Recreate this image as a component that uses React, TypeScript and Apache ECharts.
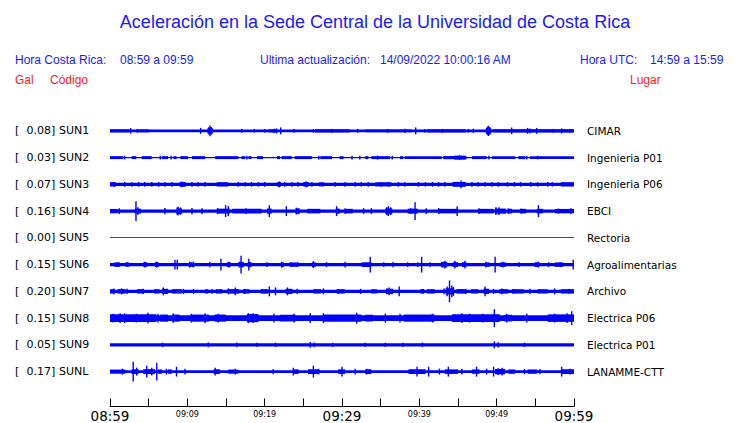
import React, { useEffect, useRef } from 'react';
import * as echarts from 'echarts';

// ---- texts ----
const titleText = 'Aceleración en la Sede Central de la Universidad de Costa Rica';
const headerLocalLabel = 'Hora Costa Rica:';
const headerLocalRange = '08:59 a 09:59';
const headerUpdateLabel = 'Ultima actualización:';
const headerUpdateValue = '14/09/2022 10:00:16 AM';
const headerUtcLabel = 'Hora UTC:';
const headerUtcRange = '14:59 a 15:59';
const colGal = 'Gal';
const colCode = 'Código';
const colPlace = 'Lugar';

// ---- time axis (minutes after 08:59) ----
const timeLabels: Record<number, string> = {
  0: '08:59', 10: '09:09', 20: '09:19', 30: '09:29', 40: '09:39', 50: '09:49', 60: '09:59',
};
const majorTimes = [0, 30, 60];

// ---- stations ----
const stationCodes = ['SUN1', 'SUN2', 'SUN3', 'SUN4', 'SUN5', 'SUN6', 'SUN7', 'SUN8', 'SUN9', 'SUNL'];
const peakGal = [0.08, 0.03, 0.07, 0.16, 0.0, 0.15, 0.2, 0.15, 0.05, 0.17];
const places = ['CIMAR', 'Ingenieria P01', 'Ingenieria P06', 'EBCI', 'Rectoria', 'Agroalimentarias', 'Archivo', 'Electrica P06', 'Electrica P01', 'LANAMME-CTT'];

// background noise half-amplitude of each trace (display counts)
const baseAmp = [1.4, 0.6, 1.6, 1.6, 0.5, 1.7, 1.6, 3.0, 1.7, 1.4];

// stretches of stronger noise: [startMin, endMin, halfAmp]
const segSUN1 = [[0, 2.5, 1.6], [3.6, 5, 1.5], [12.6, 13.3, 2.8], [20.5, 21.6, 1.6], [26.5, 31, 1.6], [33, 39, 1.5], [41, 46, 1.6], [48.6, 49.3, 3.0], [49.5, 60, 1.6]];
const segSUN2 = [[0, 1.7, 1.5], [2.8, 3.4, 1.5], [4.1, 5.4, 1.5], [6.7, 7.5, 1.5], [8.2, 8.6, 1.5], [9.1, 10.1, 1.5], [10.6, 12.3, 1.5], [13.6, 16.6, 1.5], [17.0, 17.5, 1.5], [17.9, 18.3, 1.5], [19.0, 19.8, 1.5], [21.6, 22.0, 1.5], [22.2, 23.5, 1.5], [23.9, 26.1, 1.5], [27.2, 28.7, 1.5], [29.7, 30.2, 1.5], [33.0, 33.4, 1.5], [33.8, 36.2, 1.5], [37.5, 37.9, 1.5], [38.1, 42.9, 1.5], [43.1, 46.1, 1.6], [44.5, 46, 2.0], [46.8, 48.7, 1.5], [49.4, 52.4, 1.5], [52.8, 53.7, 1.5], [54.3, 60, 1.5]];
const segSUN3 = [[0, 0.7, 2.2], [9, 9.8, 2.4], [13.8, 15.3, 2.2], [21.6, 22.1, 2.3], [25, 25.7, 2.3], [27, 27.7, 2.1], [34.3, 36.4, 2.1], [44.3, 46, 2.5], [58.3, 60, 2.2]];
const segSUN4 = [[0, 1, 2.2], [3.2, 4.0, 2.5], [8.6, 9.3, 2.8], [13.9, 15.5, 2.5], [15.8, 19.6, 2.3], [20.3, 20.9, 2.6], [24, 24.5, 2.7], [25.5, 27.2, 2.3], [29.2, 29.7, 2.6], [30.4, 31.4, 2.3], [35.6, 36.5, 2.8], [38.5, 39.8, 2.5], [42.5, 45, 2.3], [47.6, 49.6, 2.3], [49.8, 51.2, 2.6], [51.5, 52, 2.4], [53, 53.8, 2.3], [55.2, 56, 2.3], [57.5, 60, 2.2]];
const segSUN5: number[][] = [];
const segSUN6 = [[0.5, 1.3, 2.2], [2.0, 2.5, 2.2], [4.3, 4.8, 2.4], [5.8, 6.3, 2.4], [10.2, 10.8, 2.3], [15.1, 15.6, 2.4], [16.6, 17.3, 2.8], [17.8, 18.3, 2.6], [22.1, 22.5, 2.3], [23.2, 24.3, 2.2], [26.1, 26.6, 2.4], [32.7, 33.8, 2.4], [42.8, 43.6, 2.8], [44.3, 45.0, 2.4], [45.5, 46.1, 2.4], [48.6, 49.1, 2.2], [50.4, 51.2, 2.2], [54.9, 55.5, 2.4], [57.5, 58.6, 2.2]];
const segSUN7 = [[0, 0.6, 2.2], [1.0, 2.0, 2.3], [3.5, 4.3, 2.2], [5.7, 6.4, 2.2], [6.7, 7.5, 2.6], [8.0, 9.3, 2.2], [12.3, 12.7, 2.2], [13.7, 14.5, 2.2], [15.2, 16.7, 2.3], [17.2, 18, 2.2], [19.5, 20.4, 2.3], [22.7, 23.6, 2.6], [26.3, 27.3, 2.2], [29.3, 30.4, 2.2], [33.8, 34.5, 2.2], [35.7, 36.6, 2.7], [40.1, 40.6, 2.2], [41, 42, 2.2], [43.4, 44.5, 3.2], [44.8, 46, 2.3], [46.7, 47.6, 2.2], [48.3, 49, 2.7], [50.3, 51.5, 2.2], [52, 53.5, 2.2], [55.3, 56.6, 2.2], [58.3, 60, 2.2]];
const segSUN8 = [[0, 6, 3.8], [6.5, 7.5, 3.6], [8, 9, 3.6], [10.5, 12.8, 3.6], [13.5, 15, 3.6], [17.7, 19.2, 4.1], [22, 24, 3.4], [27.6, 32.5, 3.6], [33, 34, 3.4], [38, 42, 3.6], [44.2, 50.4, 3.8], [51, 52, 3.4], [56.6, 60, 3.8]];
const segSUN9: number[][] = [];
const segSUNL = [[0, 2, 2.1], [2.8, 3.7, 2.4], [4.3, 5.8, 2.5], [6.2, 6.7, 2.2], [7.5, 8, 2.2], [13.4, 14.2, 2.4], [15.3, 16.6, 2.1], [23.7, 24.4, 2.3], [25.6, 27.0, 2.4], [29.5, 30.4, 2.3], [33, 33.8, 2.4], [38.6, 40.8, 2.4], [43.3, 45.0, 2.3], [46.8, 47.8, 2.2], [49.8, 51.1, 2.7], [51.5, 52.4, 2.2], [54, 55.2, 2.2], [58.4, 60, 2.4]];

// individual peaks: [minute, halfAmp]
const spkSUN1 = [[2.67, 2.8], [3.53, 2], [11.72, 3], [12.8, 4], [12.93, 5.5], [13.1, 4], [17.03, 2], [18.66, 1.8], [20.04, 2], [21.25, 2.2], [21.55, 2.5], [22.07, 3.5], [23.79, 1.8], [26.29, 1.8], [28.66, 2], [32.03, 2], [35.9, 2], [38.15, 2.2], [39.53, 3.5], [40.73, 2], [42.97, 2], [46.34, 1.8], [46.98, 2.2], [48.8, 4], [48.92, 5.2], [49.1, 3.8], [51.94, 3.5], [54.0, 3], [54.31, 2.5], [55.17, 3], [57.33, 2], [58.4, 2.5], [59.48, 2]];
const spkSUN2 = [[1.9, 1.8], [6.5, 1.8], [7.9, 1.8], [17.7, 2], [27, 1.8], [31.3, 1.8], [32.3, 1.8], [34.6, 2], [36.5, 2], [45.2, 2.5], [49, 1.8], [53.9, 2], [55.3, 1.8]];
const spkSUN3 = [[0.6, 2.4], [1.9, 2.4], [2.8, 2.3], [3.7, 2.4], [4.5, 2.3], [5.4, 2.4], [6.3, 2.3], [7.1, 2.4], [8.0, 2.3], [9.3, 3], [10.6, 2.3], [11.4, 2.4], [12.3, 2.3], [16.6, 2.4], [17.5, 2.3], [18.3, 2.4], [19.2, 2.3], [20.0, 2.4], [21.9, 3], [22.6, 2.3], [23.5, 2.4], [24.3, 2.3], [25.4, 3], [26.1, 2.4], [29.1, 2.3], [30.4, 2.4], [31.7, 2.3], [32.5, 2.4], [33.4, 2.3], [35.1, 2.4], [36.0, 2.3], [37.3, 2.4], [38.1, 2.3], [39.9, 2.4], [40.8, 2.3], [41.7, 2.4], [42.5, 2.3], [43.3, 2.4], [45.4, 4], [46.8, 2.4], [47.6, 2.3], [48.5, 2.4], [49.4, 2.3], [50.2, 2.4], [51.4, 2.3], [52.3, 2.4], [53.1, 2.3], [54.4, 2.4], [55.3, 2.3], [56.6, 2.4], [57.2, 2.3]];
const spkSUN4 = [[1.2, 3], [3.36, 10], [3.6, 4], [7.1, 3.2], [8.7, 4], [8.8, 4.5], [9.1, 3.8], [10.6, 3.2], [11.9, 3], [13.9, 3], [14.95, 6], [15.3, 5], [17.6, 3], [20.6, 6], [22.8, 5], [24.1, 3.5], [24.4, 3], [29.3, 5], [30.4, 3], [32.8, 3], [33.8, 3], [35.8, 4.2], [36.0, 5], [36.3, 4], [38.9, 3], [39.45, 9], [40.9, 3], [42.5, 3], [44.9, 5], [47.7, 2.8], [49.9, 4], [50.3, 4], [51.5, 3], [53.2, 2.6], [55.4, 6], [58.0, 2.6], [59.6, 2.8]];
const spkSUN5: number[][] = [];
const spkSUN6 = [[1, 2.5], [2.2, 2.5], [4.5, 3], [6, 3], [8.4, 5], [8.7, 5], [10.3, 3], [10.8, 3], [12.9, 2.6], [14.35, 6], [15.4, 3], [16.95, 9], [17.95, 6], [20.3, 2.5], [22.2, 3], [23.4, 2.5], [24.3, 2.5], [26.3, 3.5], [28.0, 2.5], [30.4, 3], [32.6, 2.5], [33.65, 8], [35.4, 2.5], [36.6, 2.6], [38.5, 2.5], [39.8, 2.5], [40.3, 8], [41.4, 2.5], [43.3, 4], [44.6, 4], [45.9, 4], [48.6, 3], [49.8, 8], [50.8, 3], [52.9, 2.5], [55.4, 3], [56.7, 2.5], [58.2, 2.5], [59.9, 5]];
const spkSUN7 = [[0.5, 2.8], [1.5, 3], [2.2, 2.6], [4.3, 2.6], [6.9, 4], [9.5, 2.6], [10.8, 2.5], [13.2, 2.5], [15.3, 3], [16.2, 4], [17.4, 2.6], [20.6, 5], [21.4, 4], [22.95, 4], [24.2, 2.6], [27.6, 3], [29.5, 2.5], [32.4, 2.6], [35.8, 3], [36.1, 4], [37.4, 5], [40.5, 2.5], [43.2, 3], [43.6, 5], [43.9, 11], [44.2, 6], [44.4, 4.5], [46, 2.6], [48.5, 5], [49.6, 2.6], [50.7, 3], [52.1, 2.5], [54.3, 2.6], [57.5, 3], [59.3, 2.5]];
const spkSUN8 = [[0.4, 4.5], [1.3, 5], [1.9, 5], [3.4, 4.5], [4.9, 5.5], [6.2, 4.5], [8.2, 4.8], [10.5, 4.5], [12.3, 4.8], [14, 4.5], [17.9, 5], [18.5, 5], [21.2, 4.5], [23.8, 4.5], [25.9, 5], [27.6, 5], [31.9, 5.5], [35.6, 4.5], [37.5, 4.5], [41.7, 4.5], [45.5, 5], [46.5, 4.5], [48.2, 4.5], [49.7, 9], [51.3, 4.5], [53.9, 4.5], [57.5, 4.5], [59.1, 5], [59.7, 7]];
const spkSUN9 = [[6.8, 2.3], [12.7, 2.3], [16.4, 2.3], [19, 2.2], [21.4, 2.2], [25.9, 3], [26.4, 2.3], [28.8, 2.2], [33, 2.2], [35.6, 2.2], [37.9, 2.2], [40.4, 2.3], [49.7, 3.5], [50.2, 2.6], [53.6, 2.2]];
const spkSUNL = [[1.6, 3], [3.0, 10], [3.45, 4], [4.75, 6], [5.4, 4], [6.05, 9], [7.3, 3], [8.6, 5], [9.7, 3], [13.6, 4], [16.2, 3], [21.1, 2.6], [23.7, 4], [26.3, 6], [27, 3], [30.0, 5], [31.7, 3], [33.2, 3], [39.7, 5], [41.2, 5], [42.6, 3], [43.75, 5], [45.5, 3], [47.4, 5], [48.7, 3], [49.6, 5], [50.2, 3.5], [50.7, 4], [53.6, 2.6], [55.6, 2.6], [58.4, 5], [59.5, 3]];

const segments = [segSUN1, segSUN2, segSUN3, segSUN4, segSUN5, segSUN6, segSUN7, segSUN8, segSUN9, segSUNL];
const spikes = [spkSUN1, spkSUN2, spkSUN3, spkSUN4, spkSUN5, spkSUN6, spkSUN7, spkSUN8, spkSUN9, spkSUNL];

const BLUE = '#0000ff';
const RED = '#ff0000';
const TEXT_BLUE = '#1a1aff';
const TEXT_RED = '#ff1a1a';
const ROW_COUNTS = 27; // display counts per row band

function buildItems() {
  const items: number[][] = [];
  stationCodes.forEach((_, i) => {
    items.push([i, 0, 0, 60, baseAmp[i]]);
    segments[i].forEach((s) => items.push([i, 0, s[0], s[1], s[2]]));
    spikes[i].forEach((p) => items.push([i, 1, p[0], p[0], p[1]]));
  });
  return items;
}

function buildOption(): any {
  const headerFont = { fontSize: 12, fontFamily: '"Liberation Sans", Arial, sans-serif' };
  const hText = (x: number, y: number, text: string, fill: string) => ({
    type: 'text', x, y,
    style: { text, fill, ...headerFont, align: 'left', verticalAlign: 'middle' },
  });
  return {
    animation: false,
    backgroundColor: '#ffffff',
    graphic: [
      {
        type: 'text', x: 375, y: 22,
        style: { text: titleText, fill: TEXT_BLUE, fontSize: 18, fontFamily: '"Liberation Sans", Arial, sans-serif', align: 'center', verticalAlign: 'middle' },
      },
      hText(15, 60, headerLocalLabel, TEXT_BLUE),
      hText(120, 60, headerLocalRange, TEXT_BLUE),
      hText(260, 60, headerUpdateLabel, TEXT_BLUE),
      hText(380, 60, headerUpdateValue, TEXT_BLUE),
      hText(580, 60, headerUtcLabel, TEXT_BLUE),
      hText(650, 60, headerUtcRange, TEXT_BLUE),
      hText(15, 80, colGal, TEXT_RED),
      hText(50, 80, colCode, TEXT_RED),
      hText(630, 80, colPlace, TEXT_RED),
    ],
    grid: { left: 110, right: 166, top: 117.5, height: 270 },
    xAxis: {
      type: 'value', min: 0, max: 60, interval: 5, offset: 21.5,
      axisLine: { show: true, lineStyle: { color: '#000', width: 1 } },
      axisTick: { show: true, inside: true, length: 8, lineStyle: { color: '#000', width: 1 } },
      splitLine: { show: false },
      axisLabel: {
        margin: 2,
        formatter: (v: number) => {
          const t = timeLabels[v];
          if (!t) return '';
          return majorTimes.includes(v) ? `{big|${t}}` : `{small|${t}}`;
        },
        rich: {
          big: { fontSize: 13.5, fontFamily: '"DejaVu Sans", sans-serif', color: '#000', lineHeight: 15 },
          small: { fontSize: 8, fontFamily: '"DejaVu Sans", sans-serif', color: '#000', lineHeight: 11 },
        },
      },
    },
    yAxis: [
      {
        type: 'category', data: stationCodes, inverse: true, position: 'left',
        axisLine: { show: false }, axisTick: { show: false }, splitLine: { show: false },
        axisLabel: {
          margin: 95, align: 'left',
          formatter: (v: string, idx: number) => `{b|[}{v|${peakGal[idx].toFixed(2)}]}{s|${v}}`,
          rich: {
            b: { width: 12, fontSize: 11, fontFamily: '"DejaVu Sans", sans-serif', color: '#000' },
            v: { width: 28, align: 'right', fontSize: 11, fontFamily: '"DejaVu Sans", sans-serif', color: '#000' },
            s: { padding: [0, 0, 0, 4], fontSize: 11, fontFamily: '"DejaVu Sans", sans-serif', color: '#000' },
          },
        },
      },
      {
        type: 'category', data: places, inverse: true, position: 'right',
        axisLine: { show: false }, axisTick: { show: false }, splitLine: { show: false },
        axisLabel: { margin: 13, align: 'left', fontSize: 10.5, fontFamily: '"DejaVu Sans", sans-serif', color: '#000' },
      },
    ],
    series: [
      {
        type: 'custom',
        xAxisIndex: 0,
        yAxisIndex: 0,
        encode: { x: [2, 3], y: 0 },
        data: buildItems(),
        clip: false,
        renderItem: (params: any, api: any) => {
          const row = api.value(0) as number;
          const kind = api.value(1) as number;
          const s = api.value(2) as number;
          const e = api.value(3) as number;
          const a = api.value(4) as number;
          const p0 = api.coord([s, row]);
          const p1 = api.coord([e, row]);
          const unit = api.size([0, 1])[1] / ROW_COUNTS;
          const fill = peakGal[row] === 0 ? RED : BLUE;
          if (kind === 1) {
            const hh = a * unit;
            return { type: 'rect', shape: { x: p0[0] - 0.7, y: p0[1] - hh, width: 1.4, height: 2 * hh }, style: { fill } };
          }
          const h = Math.max(1, 2 * a * unit);
          const y = h <= 1.01 ? Math.floor(p0[1]) : p0[1] - h / 2;
          return { type: 'rect', shape: { x: p0[0], y, width: p1[0] - p0[0], height: h }, style: { fill } };
        },
      },
    ],
  };
}

export default function App() {
  const ref = useRef<HTMLDivElement>(null);
  useEffect(() => {
    if (!ref.current) return;
    const chart = echarts.init(ref.current, null, { renderer: 'svg' });
    chart.setOption(buildOption());
    return () => chart.dispose();
  }, []);
  return (
    <div
      ref={ref}
      style={{ position: 'fixed', left: 0, top: 0, width: 740, height: 423, background: '#fff' }}
    />
  );
}
